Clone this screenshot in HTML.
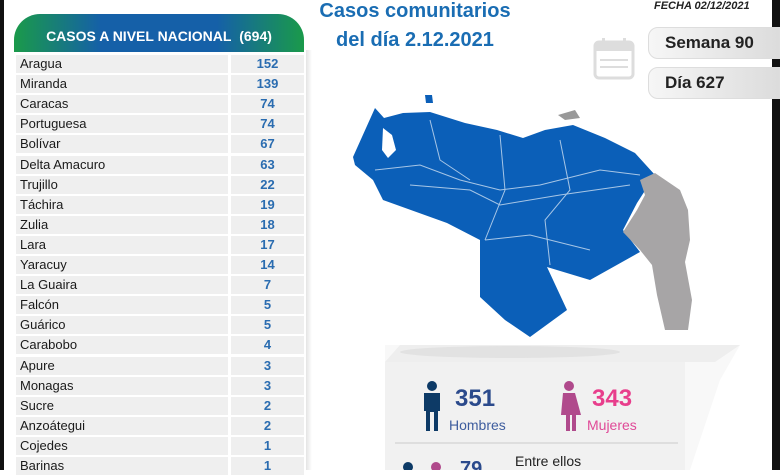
<!DOCTYPE html>
<html><head><meta charset="utf-8"><style>
*{margin:0;padding:0;box-sizing:border-box}
body{width:780px;height:470px;overflow:hidden;background:#fff;position:relative;font-family:"Liberation Sans",sans-serif}
.abs{position:absolute}
.row{position:absolute;left:16px;height:18px;width:288px}
.row .n{position:absolute;left:0;top:0;width:212px;height:18px;background:#efefef;font-size:13px;line-height:18px;padding-left:4px;color:#1a1a1a}
.row .v{position:absolute;left:215px;top:0;width:73px;height:18px;background:#efefef;font-size:13px;line-height:18px;text-align:center;color:#2a6cb0;font-weight:bold}
.pill{position:absolute;left:648px;width:132px;height:32px;border-radius:10px 0 0 10px;background:linear-gradient(90deg,#f6f6f6,#dcdcdc);border:1px solid #ddd;font-weight:bold;font-size:17px;line-height:30px;padding-left:16px;color:#222}
</style></head><body>
<div class="abs" style="left:0;top:0;width:4px;height:470px;background:#111"></div>
<div class="abs" style="right:0;top:0;width:8px;height:470px;background:#111"></div>
<div class="abs" style="left:14px;top:14px;width:290px;height:38px;border-radius:26px 26px 0 0;background:linear-gradient(90deg,#1a9a4a,#1560a8 30%,#1560a8 70%,#1a9a4a);color:#fff;font-weight:bold;font-size:14px;line-height:44px;text-align:center">CASOS A NIVEL NACIONAL&nbsp; (694)</div>
<div class="abs" style="left:306px;top:50px;width:6px;height:420px;background:linear-gradient(90deg,#e4e4e4,#fff)"></div>
<div id="rows"></div>
<div class="abs" style="left:290px;top:-3px;width:250px;text-align:center;color:#1a6db3;font-weight:bold;font-size:20px;line-height:29px">Casos comunitarios<br>del día 2.12.2021</div>
<div class="abs" style="left:654px;top:0;font-style:italic;font-weight:bold;font-size:11px;color:#222">FECHA 02/12/2021</div>
<div class="pill" style="top:27px">Semana 90</div>
<div class="pill" style="top:67px">Día 627</div>
<svg class="abs" style="left:590px;top:35px" width="50" height="50"><rect x="5" y="7" width="38" height="36" rx="4" fill="none" stroke="#ddd" stroke-width="3"/><rect x="5" y="7" width="38" height="9" fill="#ddd"/><rect x="12" y="3" width="3" height="8" fill="#ddd"/><rect x="33" y="3" width="3" height="8" fill="#ddd"/><g fill="#ddd"><rect x="10" y="24" width="28" height="2"/><rect x="10" y="31" width="28" height="2"/></g></svg>
<svg class="abs" style="left:0;top:0" width="780" height="470">
<polygon points="385,345 740,345 720,380 690,470 385,470" fill="#f8f8f8"/>
<polygon points="385,362 400,345 740,345 715,362" fill="#eeeeee"/>
<rect x="385" y="362" width="300" height="108" fill="#f1f1f1"/>
<ellipse cx="510" cy="352" rx="110" ry="6" fill="#ddd" opacity=".7"/>
<polygon points="353,157 375,108 384,118 403,113 430,112 465,123 497,130 523,138 545,130 573,125 605,138 635,153 655,175 637,203 623,230 640,252 590,280 547,267 567,310 530,337 505,320 480,297 480,240 447,223 383,200 373,180 355,165" fill="#0b5fb8"/>
<polygon points="383,128 392,135 396,150 388,158 382,150" fill="#fff"/>
<polygon points="425,95 432,95 433,103 426,103" fill="#0b5fb8"/>
<polygon points="558,115 575,110 580,118 565,120" fill="#999"/>
<polygon points="640,180 655,173 680,190 688,210 690,240 685,262 692,300 688,330 665,330 657,295 652,265 640,250 623,232 637,210 645,195" fill="#a7a5a6"/>
<g stroke="#cfe0f2" stroke-width="1" fill="none" opacity=".8"><path d="M375,170 L420,165 L460,180 L500,190 L540,185 L600,170 L640,175"/><path d="M410,185 L470,190 L500,205 L560,195 L630,185"/><path d="M430,120 L440,160 L470,180"/><path d="M500,135 L505,190 L485,240"/><path d="M560,140 L570,190 L545,220 L550,265"/><path d="M485,240 L530,235 L590,250"/></g>
<line x1="395" y1="443" x2="678" y2="443" stroke="#ccc"/>
<g fill="#0d3a66"><circle cx="432" cy="386" r="5"/><path d="M424,393h16v18h-2v20h-4v-19h-4v19h-4v-20h-2z"/><circle cx="408" cy="467" r="5"/></g>
<g fill="#b04a8c"><circle cx="569" cy="386" r="5"/><path d="M563,393h12l6,22h-5v16h-4v-16h-2v16h-4v-16h-5z"/><circle cx="436" cy="467" r="5"/></g>
<text x="455" y="406" font-family="Liberation Sans" font-weight="bold" font-size="24" fill="#2b4a8c">351</text>
<text x="449" y="430" font-family="Liberation Sans" font-size="14" fill="#3e5d9e">Hombres</text>
<text x="592" y="406" font-family="Liberation Sans" font-weight="bold" font-size="24" fill="#e83e8c">343</text>
<text x="587" y="430" font-family="Liberation Sans" font-size="14" fill="#e04a98">Mujeres</text>
<text x="515" y="466" font-family="Liberation Sans" font-size="14" fill="#222">Entre ellos</text>
<text x="460" y="475" font-family="Liberation Sans" font-weight="bold" font-size="20" fill="#2b4a8c">79</text>
</svg>
<script>
var d=[["Aragua",152],["Miranda",139],["Caracas",74],["Portuguesa",74],["Bolívar",67],["Delta Amacuro",63],["Trujillo",22],["Táchira",19],["Zulia",18],["Lara",17],["Yaracuy",14],["La Guaira",7],["Falcón",5],["Guárico",5],["Carabobo",4],["Apure",3],["Monagas",3],["Sucre",2],["Anzoátegui",2],["Cojedes",1],["Barinas",1]];
var h="";d.forEach(function(r,i){h+='<div class="row" style="top:'+(55+i*20.1)+'px"><div class="n">'+r[0]+'</div><div class="v">'+r[1]+'</div></div>';});
document.getElementById("rows").innerHTML=h;
</script>
</body></html>
